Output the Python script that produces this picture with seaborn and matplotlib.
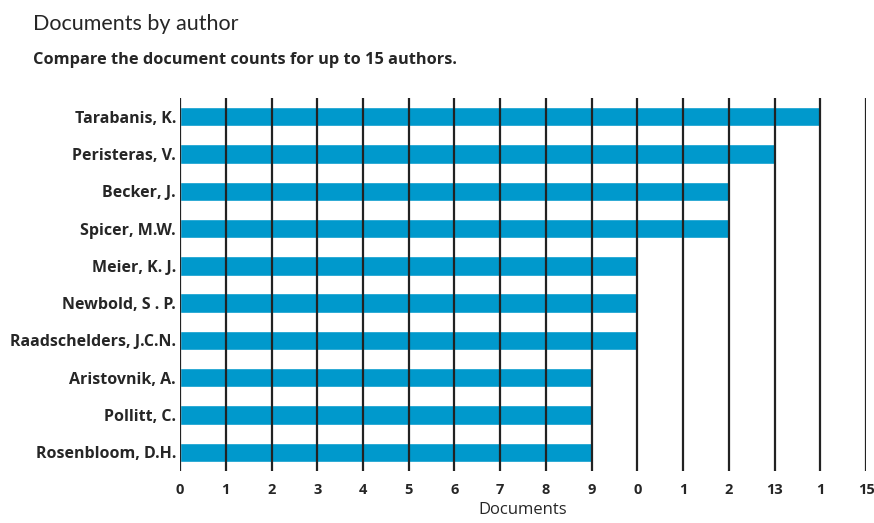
import pandas as pd
import matplotlib.pyplot as plt
import seaborn as sns

# Data
authors = ["Tarabanis, K.", "Peristeras, V.", "Becker, J.", "Spicer, M.W.",
           "Meier, K. J.", "Newbold, S . P.", "Raadschelders, J.C.N.",
           "Aristovnik, A.", "Pollitt, C.", "Rosenbloom, D.H."]
documents = [14, 13, 12, 12, 10, 10, 10, 9, 9, 9]
tick_values = list(range(0, 16))
tick_labels = ["0", "1", "2", "3", "4", "5", "6", "7", "8", "9",
               "0", "1", "2", "13", "1", "15"]

df = pd.DataFrame({"author": authors, "documents": documents})

sns.set_style("white")
plt.rcParams['font.family'] = ['Open Sans', 'DejaVu Sans']

fig = plt.figure(figsize=(8.74, 5.23), dpi=100)
ax = fig.add_axes([0.206, 0.0995, 0.785, 0.713])

sns.barplot(data=df, x="documents", y="author", color="#0099CC",
            width=0.52, saturation=1, ax=ax, zorder=1)

ax.set_xlim(0, 15)
ax.set_ylim(9.5, -0.5)
ax.set_xticks(tick_values)
ax.set_xticklabels(tick_labels, fontsize=10.5, fontweight="bold")
ax.tick_params(axis="x", length=0, pad=9)
ax.tick_params(axis="y", length=0, pad=3, labelsize=11.5)
for lbl in ax.get_yticklabels():
    lbl.set_fontweight("bold")

for v in tick_values:
    ax.axvline(v, color="#222222", linewidth=1.6, zorder=2)

for s in ax.spines.values():
    s.set_visible(False)

ax.set_ylabel("")
ax.set_xlabel("Documents", fontsize=12, labelpad=3)

fig.text(0.038, 0.955, "Documents by author", fontsize=15.5, va="center",
         family=["Lato", "DejaVu Sans"])
fig.text(0.038, 0.885, "Compare the document counts for up to 15 authors.",
         fontsize=11.8, fontweight="bold", va="center")

plt.savefig("out.png", dpi=100)
